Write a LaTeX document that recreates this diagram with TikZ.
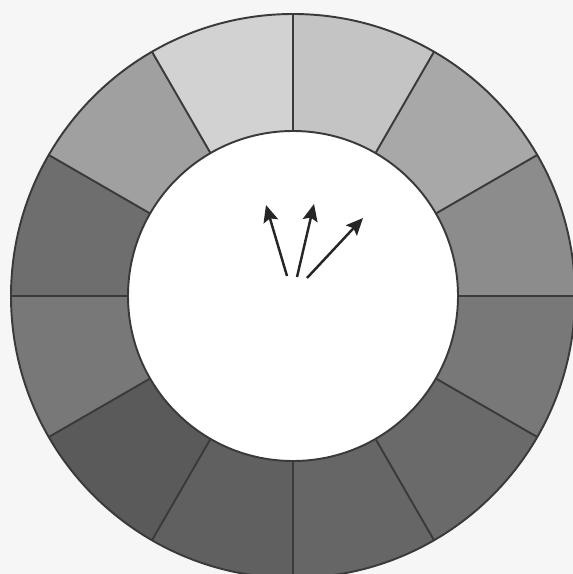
\documentclass[tikz,border=0pt]{standalone}
\usetikzlibrary{arrows.meta,calc}
\definecolor{bgc}{HTML}{F6F6F6}
\definecolor{edgec}{HTML}{3A3A3A}
\definecolor{sA}{HTML}{8C8C8C}
\definecolor{sB}{HTML}{A8A8A8}
\definecolor{sC}{HTML}{C4C4C4}
\definecolor{sD}{HTML}{D2D2D2}
\definecolor{sE}{HTML}{A0A0A0}
\definecolor{sF}{HTML}{6E6E6E}
\definecolor{sG}{HTML}{787878}
\definecolor{sH}{HTML}{5A5A5A}
\definecolor{sI}{HTML}{606060}
\definecolor{sJ}{HTML}{666666}
\definecolor{sK}{HTML}{6A6A6A}
\definecolor{sL}{HTML}{787878}
\tikzset{
  segline/.style={draw=edgec, line width=1.1pt},
  arrowline/.style={draw=black!85, line width=1.4pt, -{Stealth[length=3.4mm,width=3mm,inset=0.6mm]}}
}
\begin{document}
\begin{tikzpicture}[x=0.02cm,y=-0.02cm]
\fill[bgc] (0,0) rectangle (573,574);
\useasboundingbox (0,0) rectangle (573,574);
\clip (0,0) rectangle (573,574);
\coordinate (c) at (293,296);
\def\Ro{282}
\def\Ri{165}
\foreach \a/\col in {0/sA,30/sB,60/sC,90/sD,120/sE,150/sF,180/sG,210/sH,240/sI,270/sJ,300/sK,330/sL}{
  \pgfmathsetmacro{\b}{\a+30}
  \fill[\col] ($(c)+({\Ro*cos(\a)},{-\Ro*sin(\a)})$) arc[start angle=-\a, end angle=-\b, radius=\Ro]
     -- ($(c)+({\Ri*cos(\b)},{-\Ri*sin(\b)})$) arc[start angle=-\b, end angle=-\a, radius=\Ri] -- cycle;
}
\foreach \a in {0,30,...,330}{
  \draw[segline] ($(c)+({\Ri*cos(\a)},{-\Ri*sin(\a)})$) -- ($(c)+({\Ro*cos(\a)},{-\Ro*sin(\a)})$);
}
\draw[segline] (c) circle[radius=\Ro];
\draw[segline, fill=white] (c) circle[radius=\Ri];
\coordinate (t1) at (287,276);
\coordinate (h1) at (266,205);
\coordinate (t2) at (297,277);
\coordinate (h2) at (314,204);
\coordinate (t3) at (307,278);
\coordinate (h3) at (363,218);
\draw[arrowline] (t1) -- (h1);
\draw[arrowline] (t2) -- (h2);
\draw[arrowline] (t3) -- (h3);
\end{tikzpicture}
\end{document}
